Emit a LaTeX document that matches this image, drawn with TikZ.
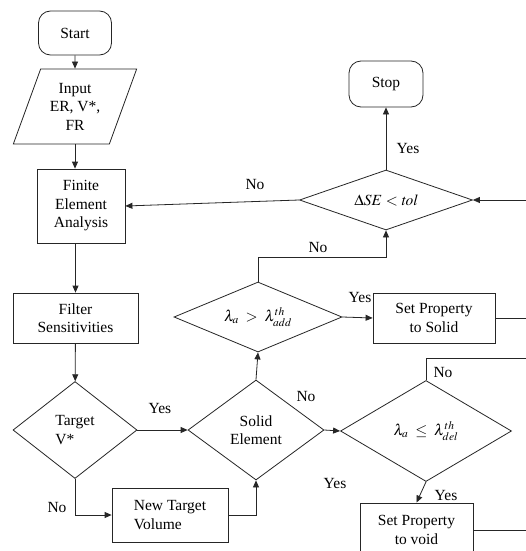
\documentclass[tikz,border=0pt]{standalone}
\usepackage{mathptmx}
\usepackage{fontspec}
\setmainfont{Liberation Serif}
\usetikzlibrary{shapes.geometric,arrows.meta,calc}
\begin{document}
\begin{tikzpicture}[x=1pt,y=-1pt,
  every node/.style={font=\fontsize{15.5}{18.5}\selectfont, align=center, inner sep=0pt},
  line/.style={draw=black!85, line width=0.8pt},
  arr/.style={line, -{Triangle[length=7pt,width=6pt]}},
  term/.style={draw=black!85, line width=0.8pt, rectangle, rounded corners=12pt},
  proc/.style={draw=black!85, line width=0.8pt, rectangle},
  dia/.style={draw=black!85, line width=0.8pt, diamond},
  io/.style={draw=black!85, line width=0.8pt, trapezium, trapezium stretches=true,
     trapezium left angle=67, trapezium right angle=113},
  lbl/.style={}]
\useasboundingbox (0,0) rectangle (526,551);
\clip (0,0) rectangle (526,551);
\fill[white] (0,0) rectangle (526,551);

\node[term, minimum width=73pt, minimum height=44pt] (start) at (75,33) {Start};
\node[io, minimum width=124pt, minimum height=75pt] (input) at (75,106.5) {Input\\ER, V*,\\FR};
\node[proc, minimum width=88pt, minimum height=74pt] (fea) at (81,206) {Finite\\Element\\Analysis};
\node[proc, minimum width=125pt, minimum height=50pt] (filter) at (75.5,318) {Filter\\Sensitivities};
\node[dia, minimum width=124pt, minimum height=97pt, aspect=1.28, align=left] (target) at (75,430) {Target\\V*};
\node[proc, minimum width=116pt, minimum height=54pt, align=left] (newtv) at (170,515) {New Target\\Volume};
\node[dia, minimum width=136pt, minimum height=100pt, aspect=1.36] (solid) at (256,430) {Solid\\Element};
\node[dia, minimum width=168pt, minimum height=70pt, aspect=2.4] (ladd) at (258,317) {$\lambda_a \;>\; \lambda^{th}_{add}$};
\node[proc, minimum width=122pt, minimum height=50pt] (setsolid) at (434,318) {Set Property\\to Solid};
\node[dia, minimum width=171pt, minimum height=101pt, aspect=1.7] (ldel) at (426,431) {$\lambda_a \;\leq\; \lambda^{th}_{del}$};
\node[proc, minimum width=113pt, minimum height=54pt] (setvoid) at (416.5,530) {Set Property\\to void};
\node[dia, minimum width=173pt, minimum height=60pt, aspect=2.9] (dse) at (386,200) {$\Delta SE < \mathit{tol}$};
\node[term, minimum width=74pt, minimum height=46pt] (stop) at (386,84) {Stop};

\coordinate (rin) at (526,200);
\coordinate (rsolid) at (526,318);
\coordinate (rno) at (526,358);
\coordinate (rvoid) at (526,530);
\coordinate (nl) at (258,257);

\draw[arr] (start) -- (input);
\draw[arr] (input.south) -- (input.south |- fea.north);
\draw[arr] (fea.south -| filter.north) -- (filter.north);
\draw[arr] (filter) -- (target);
\draw[arr] (target.east) -- (solid.west);
\draw[arr] (target.south) |- (newtv.west);
\draw[arr] (newtv.east) -| (solid.south);
\draw[arr] (solid.north) -- (ladd.south);
\draw[arr] (ladd.east) -- (setsolid.west);
\draw[line] (setsolid.east) -- (rsolid);
\draw[arr] (ladd.north) -- (ladd.north |- nl) -| (dse.south);
\draw[arr] (dse.west) -- (fea.east);
\draw[arr] (dse.north) -- (stop.south);
\draw[arr] (rin) -- (dse.east);
\draw[arr] (solid.east) -- (ldel.west);
\draw[line] (ldel.north) |- (rno);
\draw[arr] (ldel.south) -- (setvoid.north);
\draw[line] (setvoid.east) -- (rvoid);

\node[lbl] (l1) at (255,184) {No};
\node[lbl] (l2) at (408,148) {Yes};
\node[lbl] (l3) at (318,247) {No};
\node[lbl] (l4) at (160,408) {Yes};
\node[lbl] (l5) at (57,507) {No};
\node[lbl] (l6) at (360,297) {Yes};
\node[lbl] (l7) at (306,396) {No};
\node[lbl] (l8) at (443,372) {No};
\node[lbl] (l9) at (335,483) {Yes};
\node[lbl] (l10) at (446,495) {Yes};
\end{tikzpicture}
\end{document}
